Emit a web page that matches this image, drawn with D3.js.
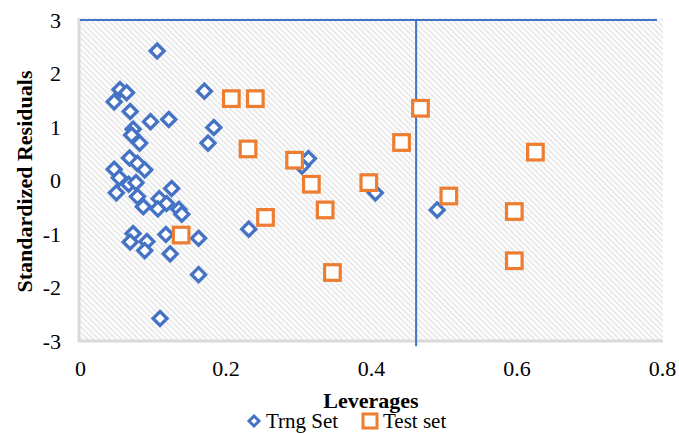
<!DOCTYPE html>
<html>
<head>
<meta charset="utf-8">
<script src="https://cdn.jsdelivr.net/npm/d3@7"></script>
<style>
  body { margin: 0; background: #fff; }
  svg { display: block; font-family: "Liberation Serif", "Times New Roman", serif; }
</style>
</head>
<body>
<div id="chart"></div>
<script>
// Williams plot: leverage vs standardized residual
const trngLeverage = [0.106, 0.055, 0.064, 0.047, 0.069, 0.097, 0.122, 0.171, 0.184, 0.176,
  0.073, 0.071, 0.082, 0.068, 0.079, 0.089, 0.047, 0.054, 0.067, 0.077,
  0.050, 0.079, 0.087, 0.126, 0.109, 0.119, 0.107, 0.136, 0.140, 0.073,
  0.069, 0.092, 0.089, 0.118, 0.124, 0.163, 0.163, 0.110, 0.314, 0.305,
  0.406, 0.232, 0.491];
const trngResidual = [2.42, 1.70, 1.64, 1.47, 1.29, 1.10, 1.14, 1.67, 0.99, 0.70,
  0.96, 0.85, 0.70, 0.42, 0.32, 0.20, 0.21, 0.05, -0.07, -0.04,
  -0.23, -0.30, -0.49, -0.15, -0.34, -0.43, -0.53, -0.54, -0.63, -0.99,
  -1.15, -1.14, -1.31, -1.01, -1.37, -1.08, -1.76, -2.58, 0.41, 0.27,
  -0.23, -0.91, -0.55];
const testLeverage = [0.208, 0.241, 0.468, 0.442, 0.231, 0.295, 0.318, 0.397,
  0.255, 0.337, 0.347, 0.507, 0.626, 0.597, 0.597, 0.139];
const testResidual = [1.53, 1.53, 1.35, 0.71, 0.59, 0.38, -0.07, -0.04,
  -0.69, -0.55, -1.72, -0.29, 0.53, -0.58, -1.50, -1.02];

const xTicks = [0, 0.2, 0.4, 0.6, 0.8];
const yTicks = [3, 2, 1, 0, -1, -2, -3];
const seriesNames = ["Trng Set", "Test set"];
const hStar = 0.462;          // warning leverage
const residualLimit = 3;      // residual cut-off
const limitLineEnd = 0.793;

const width = 679, height = 434;
const blue = "#4472c4", orange = "#ed7d31";

let svg = d3.select("#chart").append("svg")
  .attr("width", width)
  .attr("height", height);

let x = d3.scaleLinear().domain([0, 0.8]).range([80, 662]);
let y = d3.scaleLinear().domain([-3, 3]).range([341, 20]);

// hatched plot area
let hatch = svg.append("defs").append("pattern")
  .attr("id", "hatch")
  .attr("patternUnits", "userSpaceOnUse")
  .attr("width", 4)
  .attr("height", 4)
  .attr("patternTransform", "rotate(-45)");
hatch.append("rect").attr("width", 4).attr("height", 4).attr("fill", "#fff");
hatch.append("line")
  .attr("x1", 2).attr("y1", 0).attr("x2", 2).attr("y2", 4)
  .attr("stroke", "#dcdcdc")
  .attr("stroke-width", 1.2);

svg.append("rect")
  .attr("x", x(0))
  .attr("y", y(3) - 2)
  .attr("width", x(0.8) - x(0) + 1)
  .attr("height", y(-3) - y(3) + 2)
  .attr("fill", "url(#hatch)");

// axis lines (light grey)
svg.append("line")
  .attr("x1", x(0) - 1).attr("x2", x(0) - 1)
  .attr("y1", y(3) - 2).attr("y2", y(-3) + 1)
  .attr("stroke", "#d9d9d9").attr("stroke-width", 3);
svg.append("line")
  .attr("x1", x(0) - 2).attr("x2", x(0.8) + 1)
  .attr("y1", y(-3)).attr("y2", y(-3))
  .attr("stroke", "#d9d9d9").attr("stroke-width", 3);

// tick labels
let xAxis = svg.append("g")
  .attr("transform", "translate(0," + y(-3) + ")")
  .call(d3.axisBottom(x).tickValues(xTicks).tickSize(0).tickPadding(19)
    .tickFormat(d3.format("")));
let yAxis = svg.append("g")
  .attr("transform", "translate(" + x(0) + ",0)")
  .call(d3.axisLeft(y).tickValues(yTicks).tickSize(0).tickPadding(19)
    .tickFormat(function(d) { return d < 0 ? "-" + Math.abs(d) : d; }));
[xAxis, yAxis].forEach(function(g) {
  g.select(".domain").remove();
  g.selectAll("text")
    .attr("font-family", "Liberation Serif")
    .attr("font-size", 22)
    .attr("fill", "#000");
});

// limit lines
let line = d3.line()
  .x(function(d) { return x(d[0]); })
  .y(function(d) { return y(d[1]); });
svg.append("path")
  .datum([[0, residualLimit], [limitLineEnd, residualLimit]])
  .attr("d", line)
  .attr("fill", "none")
  .attr("stroke", blue)
  .attr("stroke-width", 2);
svg.append("path")
  .datum([[hStar, residualLimit], [hStar, -3.1]])
  .attr("d", line)
  .attr("fill", "none")
  .attr("stroke", blue)
  .attr("stroke-width", 2);

// markers
let diamond = function(r) {
  return "M0," + (-r) + "L" + r + ",0L0," + r + "L" + (-r) + ",0Z";
};

svg.append("g").selectAll("path")
  .data(d3.range(trngLeverage.length))
  .enter().append("path")
  .attr("transform", function(i) { return "translate(" + x(trngLeverage[i]) + "," + y(trngResidual[i]) + ")"; })
  .attr("d", diamond(7))
  .attr("fill", "#fff")
  .attr("stroke", blue)
  .attr("stroke-width", 3.3);

svg.append("g").selectAll("rect")
  .data(d3.range(testLeverage.length))
  .enter().append("rect")
  .attr("x", function(i) { return x(testLeverage[i]) - 7.8; })
  .attr("y", function(i) { return y(testResidual[i]) - 7.8; })
  .attr("width", 15.6)
  .attr("height", 15.6)
  .attr("fill", "#fff")
  .attr("stroke", orange)
  .attr("stroke-width", 3.2);

// axis titles
svg.append("text")
  .attr("x", (x(0) + x(0.8)) / 2)
  .attr("y", 408)
  .attr("text-anchor", "middle")
  .attr("font-size", 22)
  .attr("font-weight", "bold")
  .text("Leverages");

svg.append("text")
  .attr("transform", "translate(32," + (y(0) + 1) + ") rotate(-90)")
  .attr("text-anchor", "middle")
  .attr("font-size", 22)
  .attr("font-weight", "bold")
  .text("Standardized Residuals");

// legend
let legend = svg.append("g");
legend.append("path")
  .attr("transform", "translate(254,421)")
  .attr("d", diamond(5))
  .attr("fill", "#fff")
  .attr("stroke", blue)
  .attr("stroke-width", 3);
legend.append("text")
  .attr("x", 266)
  .attr("y", 428)
  .attr("font-size", 21)
  .text(seriesNames[0]);
legend.append("rect")
  .attr("x", 363).attr("y", 414)
  .attr("width", 14).attr("height", 14)
  .attr("fill", "#fff")
  .attr("stroke", orange)
  .attr("stroke-width", 3);
legend.append("text")
  .attr("x", 383)
  .attr("y", 428)
  .attr("font-size", 21)
  .text(seriesNames[1]);
</script>
</body>
</html>
